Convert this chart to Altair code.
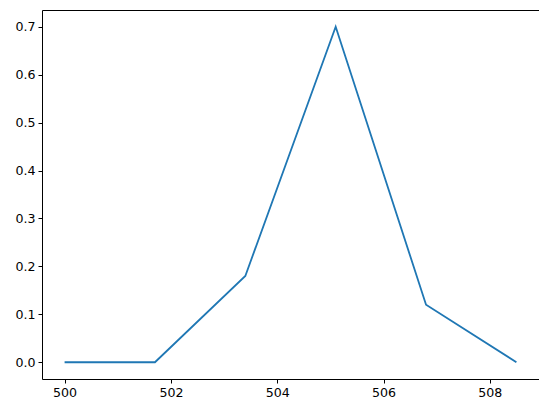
import altair as alt
import pandas as pd

x_vals = [500.0, 501.7, 503.4, 505.1, 506.8, 508.5]
y_vals = [0.0, 0.0, 0.18, 0.70, 0.12, 0.0]
x_ticks = [500, 502, 504, 506, 508]
y_ticks = [0.0, 0.1, 0.2, 0.3, 0.4, 0.5, 0.6, 0.7]

df = pd.DataFrame({"x": x_vals, "y": y_vals})

axis_common = dict(
    grid=False,
    domain=False,
    tickColor="black",
    tickSize=4,
    tickWidth=1,
    labelFont="DejaVu Sans",
    labelFontSize=12.6,
    labelColor="black",
    labelPadding=3,
    title=None,
)

chart = (
    alt.Chart(df)
    .mark_line(color="#1f77b4", strokeWidth=1.8)
    .encode(
        x=alt.X(
            "x:Q",
            scale=alt.Scale(domain=[499.575, 508.925], nice=False, zero=False),
            axis=alt.Axis(values=x_ticks, format="d", **axis_common),
        ),
        y=alt.Y(
            "y:Q",
            scale=alt.Scale(domain=[-0.035, 0.735], nice=False, zero=False),
            axis=alt.Axis(values=y_ticks, format=".1f", **axis_common),
        ),
    )
    .properties(
        width=497,
        height=369,
        background="white",
        autosize=alt.AutoSizeParams(type="none"),
        padding={"left": 34, "top": 2, "right": 0, "bottom": 26},
    )
    .configure_view(stroke="black", strokeWidth=1)
)

chart.save("out.html", embed_options={"renderer": "svg", "actions": False})
